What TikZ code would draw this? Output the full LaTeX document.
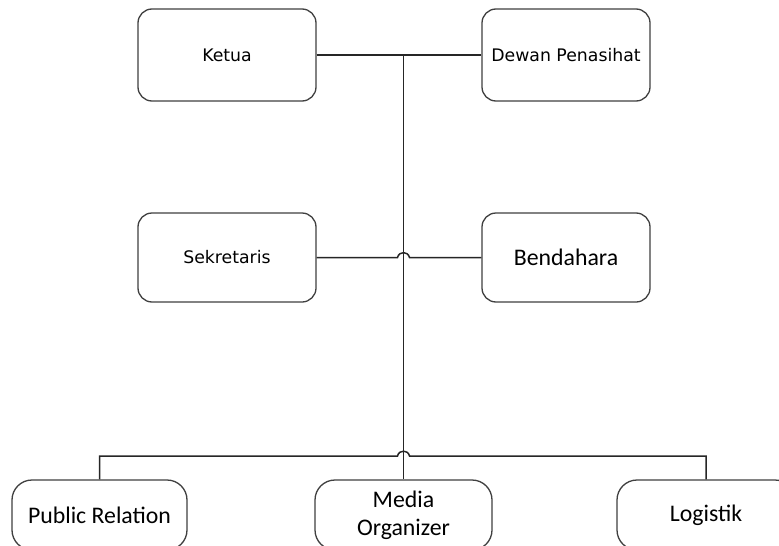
\documentclass[tikz,border=0pt]{standalone}
\usepackage{fontspec}
\setmainfont{Carlito}
\newfontfamily\tahomafont{DejaVu Sans}
\begin{document}
\begin{tikzpicture}[x=1pt,y=-1pt,
  box/.style={draw=black!75, line width=1.3pt, rounded corners=14pt, fill=white, inner sep=0pt, align=center},
  topbox/.style={box, minimum width=178pt, minimum height=92pt},
  smallfont/.style={font=\tahomafont\fontsize{17.3}{20}\selectfont},
  bigfont/.style={font=\fontsize{23.8}{28}\selectfont},
  botbox/.style={box, rounded corners=20pt, minimum width=177pt, minimum height=70pt, bigfont},
  conn/.style={draw=black!85, line width=1.5pt}]
\clip (0,0) rectangle (779,546);
\fill[white] (0,0) rectangle (779,546);
\node[topbox, smallfont] (ketua) at (227,55) {Ketua};
\node[topbox, smallfont, minimum width=168pt] (dewan) at (566,55) {Dewan Penasihat};
\node[topbox, smallfont, minimum height=89pt] (sek) at (227,257.5) {Sekretaris};
\node[topbox, bigfont, minimum width=168pt, minimum height=89pt] (bend) at (566,257.5) {Bendahara};
\node[botbox, minimum width=175pt] (pr) at (99.5,515) {Public Relation};
\node[botbox] (media) at (403.5,515) {Media\\Organizer};
\node[botbox, minimum width=178pt] (log) at (706,515) {Logistik};
\coordinate (top) at (403.5,55);
\coordinate (bl) at (99.5,456);
\coordinate (br) at (706,456);
\draw[conn] (ketua.east) -- (dewan.west);
\draw[conn] (top) -- (media.north);
\draw[conn] (sek.east) -- (397.5,257.5) .. controls (399,251) and (408,251) .. (409.5,257.5) -- (bend.west);
\draw[conn] (pr.north) -- (bl) -- (397.5,456) .. controls (399,449.5) and (408,449.5) .. (409.5,456) -- (br) -- (log.north);
\end{tikzpicture}
\end{document}
